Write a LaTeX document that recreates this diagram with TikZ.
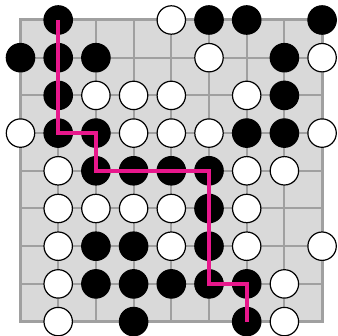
\documentclass[tikz,border=0pt]{standalone}
\definecolor{boardfill}{HTML}{D9D9D9}
\definecolor{gridline}{HTML}{A0A0A0}
\definecolor{pathcol}{HTML}{E8178C}
\begin{document}
\begin{tikzpicture}[x=1pt,y=-1pt,
  stone/.style={circle,draw=black,line width=1.2pt,minimum size=28.4pt,inner sep=0pt},
  blackstone/.style={stone,fill=black},
  whitestone/.style={stone,fill=white},
  gridrule/.style={draw=gridline,line width=2pt},
  boardedge/.style={draw=gridline,line width=3pt},
  routeline/.style={draw=pathcol,line width=3.8pt}]
\useasboundingbox (0,0) rectangle (338,336);
\foreach \c in {0,...,8} {
  \foreach \r in {0,...,8} {
    \coordinate (g\c-\r) at ({20.5+37.7*\c},{20+37.7*\r});
  }
}
\fill[boardfill] (g0-0) rectangle (g8-8);
\foreach \i in {1,...,7} {
  \draw[gridrule] (g\i-0) -- (g\i-8);
  \draw[gridrule] (g0-\i) -- (g8-\i);
}
\draw[boardedge] (g0-0) rectangle (g8-8);
\foreach \c/\r in {1/0,5/0,6/0,8/0, 0/1,1/1,2/1,7/1, 1/2,7/2, 1/3,2/3,6/3,7/3, 2/4,3/4,4/4,5/4, 5/5, 2/6,3/6,5/6, 2/7,3/7,4/7,5/7,6/7, 3/8,6/8}
  \node[blackstone] (s\c-\r) at (g\c-\r) {};
\foreach \c/\r in {4/0, 5/1,8/1, 2/2,3/2,4/2,6/2, 0/3,3/3,4/3,5/3,8/3, 1/4,6/4,7/4, 1/5,2/5,3/5,4/5,6/5, 1/6,4/6,6/6,8/6, 1/7,7/7, 1/8,7/8}
  \node[whitestone] (s\c-\r) at (g\c-\r) {};
\draw[routeline] (s1-0.center) -- (s1-3.center) -- (s2-3.center) -- (s2-4.center) -- (s5-4.center) -- (s5-7.center) -- (s6-7.center) -- (s6-8.center);
\end{tikzpicture}
\end{document}
